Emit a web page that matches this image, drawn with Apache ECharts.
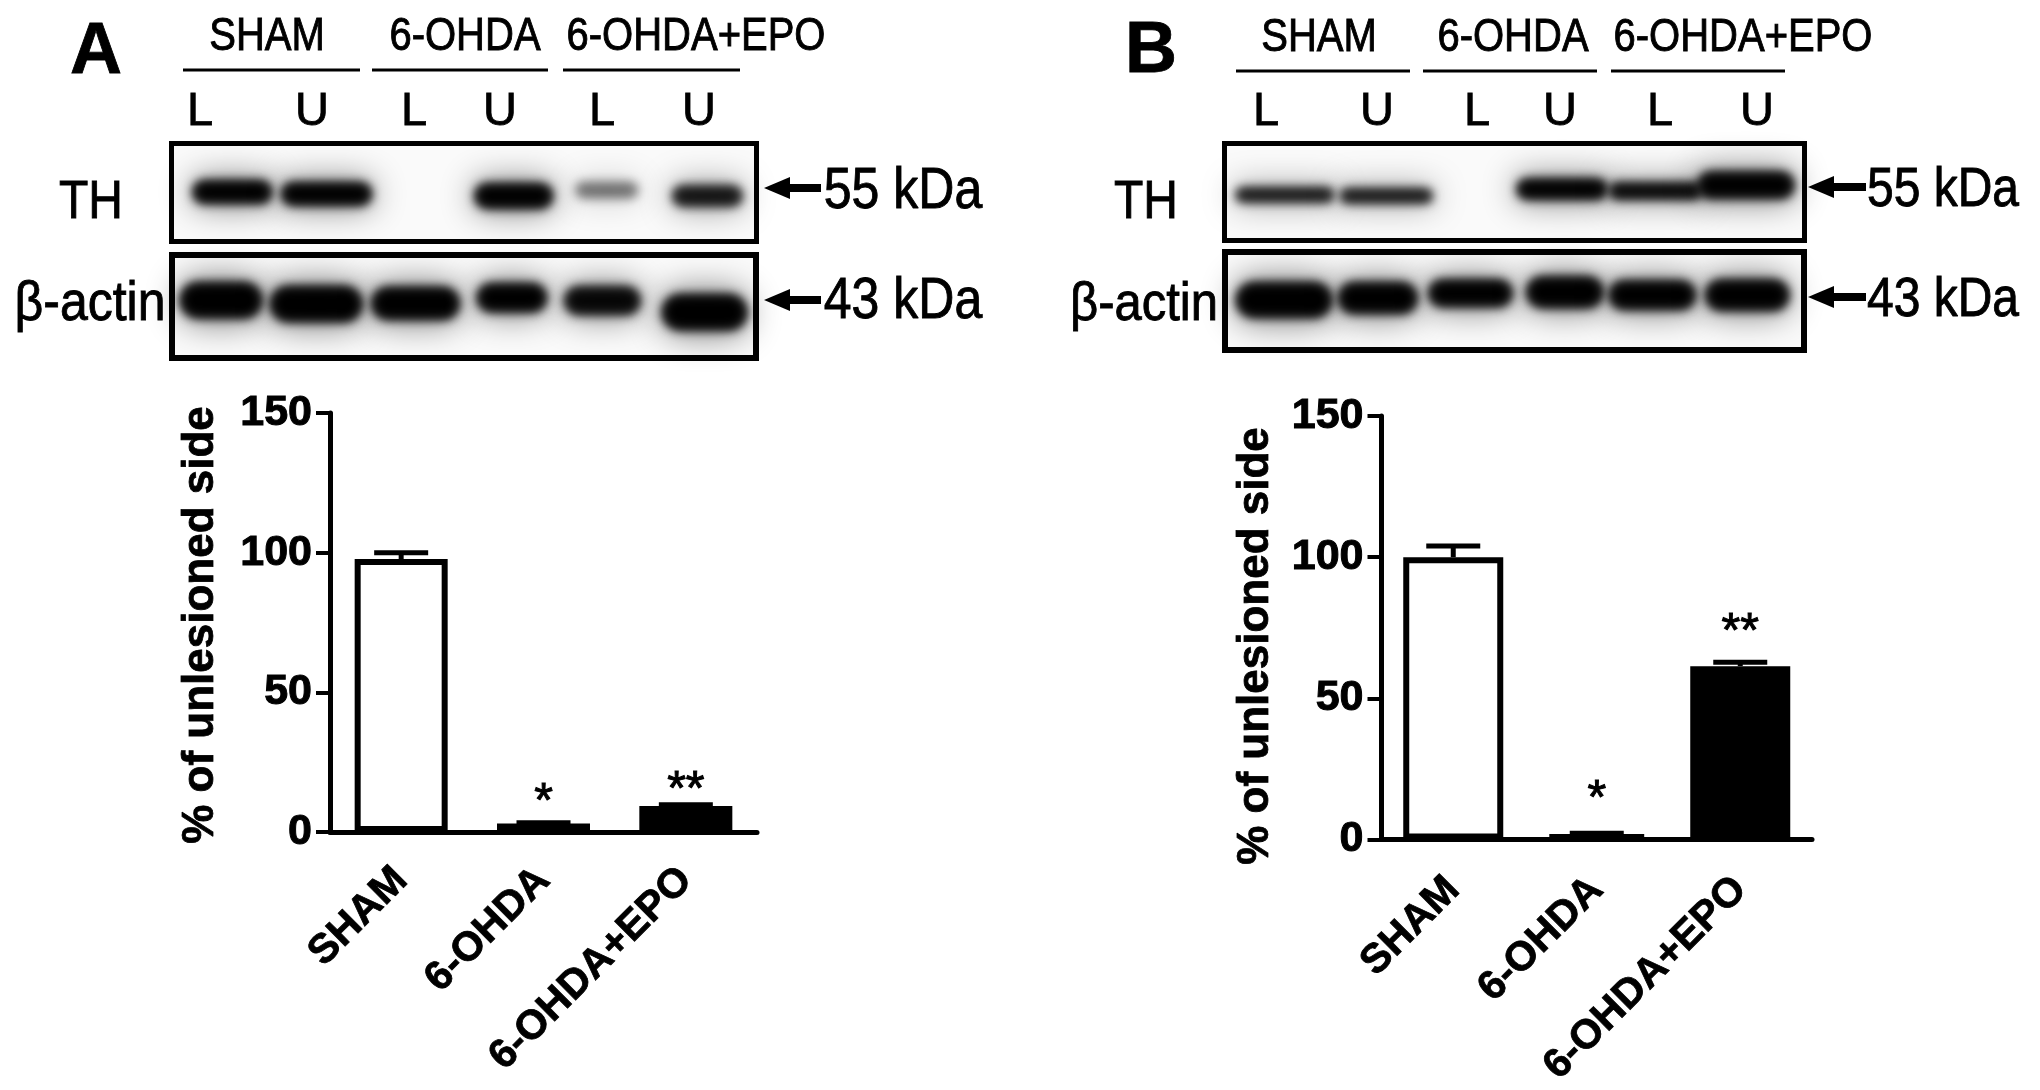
<!DOCTYPE html>
<html>
<head>
<meta charset="utf-8">
<title>TH western blot</title>
<script src="https://cdn.jsdelivr.net/npm/echarts@6/dist/echarts.min.js"></script>
<style>
  html, body { margin: 0; background: #fff; }
  #chart { width: 2040px; height: 1090px; }
</style>
</head>
<body>
<div id="chart"></div>
<script>
const categories = ['SHAM', '6-OHDA', '6-OHDA+EPO'];
const yTicks = [0, 50, 100, 150];

const meanA = [97.7, 3, 9.3];
const errTopA = [100, 3.3, 9.8];
const starsA = ['', '*', '**'];
const starYA = [null, 10.4, 14.7];

const meanB = [100, 1.8, 61.4];
const errTopB = [104, 2.2, 62.8];
const starsB = ['', '*', '**'];
const starYB = [null, 14, 73.3];

const lanes = ['L', 'U', 'L', 'U', 'L', 'U'];
const groups = ['SHAM', '6-OHDA', '6-OHDA+EPO'];

// blot bands, all in percent of the blot frame: lane centre, band centre, width, height, darkness
const laneA_TH = [10.4, 26.5, 58.5, 74.4, 91.6];
const bandYA_TH = [49.5, 51.5, 53.5, 47.5, 53.5];
const widthA_TH = [13.3, 15.2, 13.1, 10.6, 11.8];
const heightA_TH = [22, 22, 24, 16, 20];
const darkA_TH = [1, 1, 1, 0.38, 0.82];

const laneA_actin = [8.4, 24.7, 41.7, 58.2, 73.7, 91.2];
const bandYA_actin = [44, 47.6, 47, 41.5, 44.3, 55.6];
const widthA_actin = [13.8, 15.5, 14.8, 11.7, 12.8, 14.3];
const heightA_actin = [33, 33, 30, 26, 26, 33];
const darkA_actin = [1, 1, 1, 1, 0.92, 1];

const laneB_TH = [10.4, 27.9, 58.2, 74.3, 89.9];
const bandYB_TH = [53, 54, 47, 49, 43];
const widthB_TH = [16.8, 15.8, 15.4, 15.8, 16.4];
const heightB_TH = [14, 14, 20, 16, 26];
const darkB_TH = [0.82, 0.82, 1, 0.95, 1];

const laneB_actin = [10.2, 26.4, 42.4, 58.7, 73.8, 90.2];
const bandYB_actin = [49, 47, 42, 41, 44, 44];
const widthB_actin = [16.3, 13.4, 14.2, 13, 14.7, 14.2];
const heightB_actin = [34, 30, 26, 30, 28, 30];
const darkB_actin = [1, 1, 1, 1, 1, 1];

const FONT = '"Liberation Sans", Arial, sans-serif';

const grids = [];
const xAxes = [];
const yAxes = [];
const series = [];

function zipRows() {
  const cols = Array.from(arguments);
  return cols[0].map((_, i) => cols.map(c => c[i]));
}

// only the shadow lands on the blot, the rect itself sits off canvas, so the band has no hard edge
const OFF = 4000;
function bandLayer(c, s, alpha, blur) {
  return {
    type: 'rect',
    shape: { x: c[0] - s[0] / 2 - OFF, y: c[1] - s[1] / 2, width: s[0], height: s[1], r: s[1] / 2 },
    style: { fill: '#000', shadowBlur: blur, shadowColor: 'rgba(0,0,0,' + alpha + ')', shadowOffsetX: OFF }
  };
}

function renderBand(params, api) {
  const c = api.coord([api.value(0), api.value(1)]);
  const s = api.size([api.value(2), api.value(3)]);
  const dark = api.value(4);
  return {
    type: 'group',
    children: [
      bandLayer(c, [s[0] * 1.08, s[1] * 1.45], dark * 0.45, 32),
      bandLayer(c, s, dark, 12),
      bandLayer(c, s, dark * 0.6, 8)
    ]
  };
}

// frame box is the outer edge of the black border
function addBlot(box, bands, border) {
  const g = grids.length;
  grids.push({
    show: true,
    left: box[0] + border / 2,
    top: box[1] + border / 2,
    width: box[2] - border,
    height: box[3] - border,
    borderColor: '#000',
    borderWidth: border,
    backgroundColor: '#fafafa'
  });
  xAxes.push({ gridIndex: g, type: 'value', min: 0, max: 100, show: false });
  yAxes.push({ gridIndex: g, type: 'value', min: 0, max: 100, inverse: true, show: false });
  series.push({
    type: 'custom',
    xAxisIndex: g,
    yAxisIndex: g,
    clip: false,
    silent: true,
    renderItem: renderBand,
    data: bands
  });
}

function renderErr(params, api) {
  const x = api.value(0);
  const base = api.coord([x, api.value(1)]);
  const top = api.coord([x, api.value(2)]);
  const half = 27;
  const line = { stroke: '#000', lineWidth: 5 };
  return {
    type: 'group',
    children: [
      { type: 'line', shape: { x1: base[0], y1: base[1], x2: top[0], y2: top[1] }, style: line },
      { type: 'line', shape: { x1: top[0] - half, y1: top[1], x2: top[0] + half, y2: top[1] }, style: line }
    ]
  };
}

function renderStar(params, api) {
  const p = api.coord([api.value(0), api.value(1)]);
  return {
    type: 'text',
    x: p[0],
    y: p[1],
    style: {
      text: api.value(2),
      font: '48px ' + FONT,
      fill: '#000',
      stroke: '#000',
      lineWidth: 1,
      align: 'center',
      verticalAlign: 'middle'
    }
  };
}

function addBars(box, mean, errTop, stars, starY, barWidth, labelMargin) {
  const g = grids.length;
  grids.push({ left: box[0], top: box[1], width: box[2], height: box[3] });
  xAxes.push({
    gridIndex: g,
    type: 'category',
    data: categories,
    axisLine: { lineStyle: { color: '#000', width: 5 } },
    axisTick: { alignWithLabel: true, length: 13, lineStyle: { color: '#000', width: 4 } },
    axisLabel: {
      interval: 0,
      rotate: 45,
      margin: labelMargin,
      color: '#000',
      fontFamily: FONT,
      fontWeight: 'bold',
      fontSize: 41,
      textBorderColor: '#000',
      textBorderWidth: 0.8
    }
  });
  yAxes.push({
    gridIndex: g,
    type: 'value',
    min: yTicks[0],
    max: yTicks[yTicks.length - 1],
    interval: yTicks[1],
    splitLine: { show: false },
    axisLine: { show: true, lineStyle: { color: '#000', width: 5 } },
    axisTick: { show: true, length: 14, lineStyle: { color: '#000', width: 4 } },
    axisLabel: {
      margin: 18,
      color: '#000',
      fontFamily: FONT,
      fontWeight: 'bold',
      fontSize: 43,
      textBorderColor: '#000',
      textBorderWidth: 1
    }
  });
  series.push({
    type: 'custom',
    xAxisIndex: g,
    yAxisIndex: g,
    silent: true,
    z: 1,
    renderItem: renderErr,
    data: mean.map((m, i) => [i, m, errTop[i]])
  });
  series.push({
    type: 'bar',
    xAxisIndex: g,
    yAxisIndex: g,
    barWidth: barWidth,
    silent: true,
    z: 2,
    data: mean.map((m, i) => ({
      value: m,
      itemStyle: {
        color: i === 2 ? '#000' : '#fff',
        borderColor: '#000',
        borderWidth: 6
      }
    }))
  });
  series.push({
    type: 'custom',
    xAxisIndex: g,
    yAxisIndex: g,
    silent: true,
    z: 3,
    renderItem: renderStar,
    data: stars.map((s, i) => [i, starY[i], s]).filter(d => d[2])
  });
}

function txt(str, x, y, size, weight, stretch, rotation) {
  return {
    type: 'text',
    x: x,
    y: y,
    scaleY: stretch || 1,
    rotation: rotation || 0,
    silent: true,
    style: {
      text: str,
      font: (weight || 'normal') + ' ' + size + 'px ' + FONT,
      fill: '#000',
      stroke: '#000',
      lineWidth: 0.8,
      align: 'center',
      verticalAlign: 'middle'
    }
  };
}

function hline(x1, x2, y, w) {
  return { type: 'line', silent: true, shape: { x1: x1, y1: y, x2: x2, y2: y }, style: { stroke: '#000', lineWidth: w } };
}

function arrow(x1, x2, y) {
  return {
    type: 'group',
    silent: true,
    children: [
      hline(x1 + 20, x2, y, 8),
      {
        type: 'polygon',
        shape: { points: [[x1, y], [x1 + 26, y - 11], [x1 + 26, y + 11]] },
        style: { fill: '#000' }
      }
    ]
  };
}

addBlot([169, 141, 590, 103], zipRows(laneA_TH, bandYA_TH, widthA_TH, heightA_TH, darkA_TH), 5);
addBlot([169, 252, 590, 109], zipRows(laneA_actin, bandYA_actin, widthA_actin, heightA_actin, darkA_actin), 6);
addBlot([1222, 141, 585, 102], zipRows(laneB_TH, bandYB_TH, widthB_TH, heightB_TH, darkB_TH), 5);
addBlot([1222, 249, 585, 104], zipRows(laneB_actin, bandYB_actin, widthB_actin, heightB_actin, darkB_actin), 6);
addBars([330, 413, 427, 419], meanA, errTopA, starsA, starYA, 93, 42);
addBars([1381.5, 416, 430.5, 425], meanB, errTopB, starsB, starYB, 100, 44);

const laneXA = [200, 312, 414, 500, 602, 699];
const laneXB = [1266, 1377, 1477, 1560, 1660, 1757];
const headXA = [267, 465, 696];
const headXB = [1319, 1513, 1743];
const ruleA = [[183, 360], [372, 548], [563, 740]];
const ruleB = [[1236, 1410], [1423, 1597], [1611, 1785]];

const graphics = [
  txt('A', 96, 53, 72, 'bold'),
  txt('B', 1151, 52, 72, 'bold'),
  txt('TH', 91, 203, 48, 'normal', 1.1),
  txt('TH', 1146, 203, 48, 'normal', 1.1),
  txt('β-actin', 90, 305, 50, 'normal', 1.1),
  txt('β-actin', 1144, 305, 49, 'normal', 1.1),
  txt('55 kDa', 903, 192, 50, 'normal', 1.15),
  txt('43 kDa', 903, 302, 50, 'normal', 1.15),
  txt('55 kDa', 1943, 191, 48, 'normal', 1.15),
  txt('43 kDa', 1943, 301, 48, 'normal', 1.15),
  txt('% of unlesioned side', 201, 625, 44, 'bold', 1, Math.PI / 2),
  txt('% of unlesioned side', 1256, 646, 44, 'bold', 1, Math.PI / 2),
  arrow(764, 821, 188),
  arrow(764, 821, 300),
  arrow(1808, 1866, 187),
  arrow(1808, 1866, 297)
];
groups.forEach((name, i) => {
  graphics.push(txt(name, headXA[i], 37, 40, 'normal', 1.15));
  graphics.push(txt(name, headXB[i], 38, 40, 'normal', 1.15));
  graphics.push(hline(ruleA[i][0], ruleA[i][1], 70, 3));
  graphics.push(hline(ruleB[i][0], ruleB[i][1], 71, 3));
});
lanes.forEach((name, i) => {
  graphics.push(txt(name, laneXA[i], 112, 47));
  graphics.push(txt(name, laneXB[i], 112, 47));
});

const chart = echarts.init(document.getElementById('chart'), null, { renderer: 'canvas' });
chart.setOption({
  backgroundColor: '#fff',
  animation: false,
  tooltip: { show: false },
  grid: grids,
  xAxis: xAxes,
  yAxis: yAxes,
  series: series,
  graphic: graphics
});
</script>
</body>
</html>
